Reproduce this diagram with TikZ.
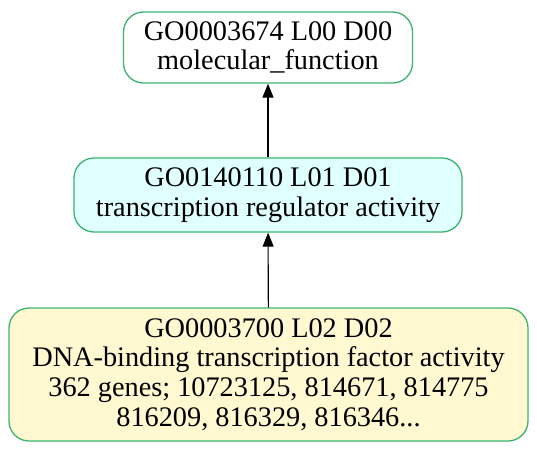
\documentclass[tikz,border=0pt]{standalone}
\usepackage{fontspec}
\setmainfont{Liberation Serif}
\usetikzlibrary{arrows.meta}
\definecolor{edgegreen}{HTML}{3CB371}
\definecolor{midfill}{HTML}{E0FFFF}
\definecolor{lowfill}{HTML}{FFF8D0}
\tikzset{
  gonode/.style={draw=edgegreen, line width=1.3pt, rounded corners=20pt, align=center, inner sep=0pt,
    font=\fontsize{28.3}{29.7}\selectfont},
  isa/.style={-{Triangle[length=14pt,width=11pt]}, line width=1.1pt, black}
}
\begin{document}
\begin{tikzpicture}[x=1pt,y=-1pt]
\useasboundingbox (0,0) rectangle (537,450);
\node[gonode, minimum width=289pt, minimum height=71pt] (top) at (268,47.5) {GO0003674 L00 D00\\molecular\_function};
\node[gonode, fill=midfill, minimum width=388pt, minimum height=74pt] (mid) at (268,195) {GO0140110 L01 D01\\transcription regulator activity};
\node[gonode, fill=lowfill, minimum width=519pt, minimum height=133pt] (low) at (268.5,374.5) {GO0003700 L02 D02\\DNA-binding transcription factor activity\\362 genes; 10723125, 814671, 814775\\816209, 816329, 816346...};
\draw[isa] (mid) -- (top);
\draw[isa] (low) -- (mid);
\end{tikzpicture}
\end{document}
